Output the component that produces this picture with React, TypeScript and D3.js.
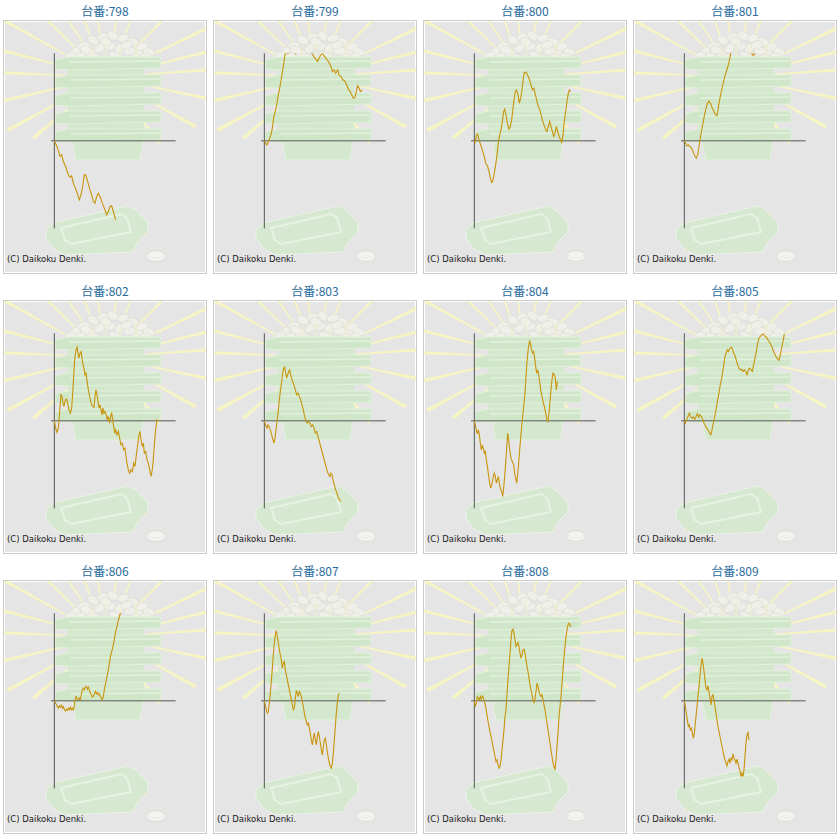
import React from "react";
import * as d3 from "d3";

type P = [number, number];

// machine numbers (panel titles)
const MACHINES = ["798", "799", "800", "801", "802", "803", "804", "805", "806", "807", "808", "809"];

// [games, coin difference]
const S798: P[] = [[0,0],[200,-440],[340,-940],[440,-840],[540,-1240],[680,-1540],[840,-2040],[940,-2180],[1040,-2100],[1140,-2540],[1340,-3040],[1500,-3540],[1600,-3240],[1700,-2740],[1800,-2040],[1880,-2040],[2000,-2440],[2140,-2940],[2240,-3240],[2340,-3640],[2440,-3740],[2540,-3340],[2640,-3140],[2740,-3340],[2880,-3740],[3040,-4140],[3140,-4440],[3240,-4240],[3340,-3940],[3440,-3900],[3540,-4240],[3680,-4740]];
const S799: P[] = [[0,0],[140,-240],[200,-180],[280,60],[400,360],[480,760],[540,1260],[600,1560],[680,1860],[740,2160],[840,2760],[940,3260],[1040,3860],[1140,4460],[1240,5160],[1280,5360],[1400,5240],[1540,5320],[1680,5500],[1880,5240],[2040,5560],[2340,5820],[2640,5620],[2840,5260],[3040,4960],[3200,4760],[3280,4960],[3400,5160],[3500,5260],[3600,5060],[3700,4960],[3840,4760],[4000,4460],[4080,4160],[4200,4260],[4280,4060],[4400,4260],[4480,3960],[4600,3860],[4700,3660],[4800,3620],[4940,3360],[5040,3100],[5140,2960],[5240,2760],[5340,2560],[5440,2620],[5540,3060],[5600,3300],[5680,3160],[5760,2960],[5880,3060]];
const S800: P[] = [[0,0],[40,-140],[140,360],[200,400],[280,60],[380,-240],[480,-540],[600,-940],[680,-1340],[800,-1540],[880,-1840],[960,-2240],[1040,-2500],[1100,-2440],[1180,-2040],[1280,-1440],[1360,-840],[1440,-140],[1520,360],[1600,660],[1680,1160],[1760,1760],[1820,1900],[1900,1560],[1980,1060],[2080,700],[2160,860],[2240,1260],[2300,1760],[2380,2460],[2460,2960],[2540,3060],[2620,2760],[2700,2260],[2780,2560],[2860,3060],[2940,3760],[3000,4100],[3100,4120],[3180,3960],[3260,3820],[3340,3560],[3420,3260],[3500,3060],[3580,3160],[3660,2760],[3740,2460],[3820,2100],[3900,1960],[3980,1660],[4080,1260],[4180,960],[4280,660],[4360,560],[4440,860],[4520,1160],[4600,860],[4680,560],[4760,260],[4840,460],[4920,860],[5000,560],[5080,260],[5180,60],[5240,-140],[5320,360],[5400,1160],[5480,1760],[5560,2360],[5640,2860],[5700,3060],[5780,2960]];
const S801: P[] = [[0,0],[80,-140],[160,-300],[240,-240],[320,-340],[400,-380],[480,-540],[560,-740],[640,-940],[720,-1040],[800,-840],[880,-340],[960,160],[1040,620],[1120,1060],[1200,1500],[1280,1860],[1380,2220],[1480,2400],[1580,2220],[1680,1960],[1780,1760],[1880,1560],[1960,1500],[2020,1860],[2080,2260],[2160,2660],[2240,3060],[2340,3500],[2440,3900],[2540,4220],[2640,4560],[2720,4900],[2780,5260],[2840,5660],[3040,6060],[3340,6260],[3640,5860],[3940,5460],[4040,5260],[4140,5120],[4240,5260],[4440,5660],[4740,5960]];
const S802: P[] = [[0,0],[80,-440],[160,-700],[240,-440],[300,260],[360,1060],[400,1560],[460,1460],[520,1060],[580,860],[640,1160],[700,1300],[760,1260],[820,960],[880,660],[960,460],[1040,760],[1100,1660],[1160,2660],[1220,3660],[1300,4260],[1360,4420],[1420,4060],[1480,3760],[1540,4060],[1600,4160],[1660,3760],[1720,3360],[1780,3160],[1840,2760],[1900,2860],[1980,2260],[2040,1860],[2120,1460],[2180,1160],[2240,960],[2320,860],[2380,820],[2440,1460],[2500,1860],[2560,1560],[2620,1160],[2680,760],[2740,960],[2800,660],[2860,360],[2920,760],[2980,460],[3040,560],[3120,360],[3180,60],[3240,260],[3320,-140],[3380,260],[3440,500],[3500,60],[3560,-340],[3620,-740],[3680,-540],[3760,-840],[3840,-640],[3920,-1040],[4000,-1440],[4080,-1340],[4160,-1740],[4240,-1640],[4300,-2140],[4360,-2540],[4440,-2940],[4520,-3140],[4600,-2940],[4680,-3040],[4760,-2540],[4840,-2740],[4920,-2040],[5000,-1440],[5080,-840],[5140,-640],[5200,-1140],[5280,-1540],[5340,-1340],[5400,-1940],[5480,-1840],[5560,-2340],[5640,-2540],[5720,-2940],[5800,-3340],[5860,-3040],[5920,-2540],[5980,-1740],[6040,-940],[6100,-340],[6160,60],[6220,0]];
const S803: P[] = [[0,0],[80,-240],[160,-440],[220,-240],[280,-340],[360,-540],[440,-840],[520,-1140],[580,-1340],[640,-1040],[700,-540],[780,60],[840,660],[900,1260],[960,1760],[1040,2360],[1100,2860],[1160,3160],[1220,3220],[1280,2860],[1340,2560],[1400,2760],[1460,2960],[1520,3060],[1580,2760],[1640,2560],[1700,2360],[1780,2160],[1860,1860],[1940,1560],[2020,1660],[2100,1460],[2180,1260],[2260,960],[2340,660],[2420,260],[2500,-40],[2580,-140],[2660,-40],[2740,-140],[2820,-340],[2900,-240],[2980,-440],[3060,-740],[3140,-640],[3220,-940],[3300,-1240],[3380,-1540],[3460,-1840],[3540,-2140],[3620,-2440],[3700,-2740],[3780,-3040],[3860,-3240],[3940,-3340],[4000,-3140],[4060,-3240],[4120,-3540],[4200,-3840],[4280,-4140],[4360,-4340],[4440,-4640],[4520,-4740],[4600,-4840]];
const S804: P[] = [[0,0],[60,-240],[120,-540],[180,-780],[240,-540],[300,-840],[360,-1340],[420,-1740],[480,-1500],[540,-1640],[600,-1940],[660,-1840],[720,-2340],[800,-2840],[860,-3340],[920,-3740],[980,-4040],[1040,-3840],[1120,-3440],[1200,-3140],[1260,-3340],[1320,-3740],[1380,-3540],[1440,-3340],[1500,-3740],[1560,-4040],[1640,-4240],[1700,-4540],[1760,-4040],[1820,-3340],[1880,-2540],[1940,-1640],[2000,-740],[2060,-1140],[2120,-1740],[2200,-2240],[2280,-2440],[2360,-2640],[2420,-3140],[2480,-3440],[2540,-3740],[2600,-3240],[2660,-2540],[2720,-1740],[2780,-1040],[2840,-340],[2900,260],[2960,860],[3040,1660],[3100,2660],[3160,3560],[3240,4360],[3320,4820],[3380,4560],[3440,4260],[3500,4060],[3560,4160],[3620,3760],[3680,3260],[3740,2860],[3800,3060],[3860,2760],[3920,2360],[3980,1860],[4040,1560],[4120,1160],[4200,860],[4280,460],[4360,60],[4420,-40],[4480,460],[4540,1160],[4600,1860],[4660,2460],[4720,2860],[4800,2760],[4860,2560],[4920,1860],[4960,2160],[4980,2360]];
const S805: P[] = [[0,0],[60,-140],[140,60],[220,260],[300,460],[380,260],[460,160],[540,220],[620,100],[700,260],[780,420],[860,220],[940,360],[1020,260],[1100,100],[1180,-140],[1260,-300],[1340,-440],[1420,-540],[1500,-700],[1580,-840],[1640,-640],[1700,-340],[1760,-40],[1820,260],[1880,560],[1940,900],[2000,1260],[2080,1660],[2140,2060],[2200,2360],[2260,2660],[2320,3060],[2380,3460],[2440,3860],[2500,4060],[2580,4260],[2640,4160],[2700,4300],[2760,4360],[2840,4420],[2900,4260],[2960,4060],[3020,3960],[3080,3760],[3140,3560],[3200,3360],[3280,3160],[3360,3060],[3440,3100],[3520,2960],[3600,3060],[3680,2960],[3760,2760],[3840,3060],[3920,3160],[4000,3060],[4080,2960],[4160,3360],[4240,3760],[4320,4160],[4400,4660],[4480,4960],[4560,5060],[4640,5160],[4720,5220],[4800,5100],[4880,5060],[4960,4960],[5040,4820],[5120,4700],[5200,4560],[5280,4360],[5360,4160],[5440,3960],[5520,3820],[5600,3700],[5680,3620],[5740,3860],[5800,4160],[5860,4460],[5940,4860],[6000,5220]];
const S806: P[] = [[0,0],[80,-140],[160,-300],[240,-440],[300,-300],[360,-380],[420,-260],[480,-440],[540,-340],[600,-500],[660,-600],[720,-500],[780,-580],[840,-440],[900,-540],[960,-380],[1020,-540],[1080,-440],[1140,-540],[1200,-300],[1260,160],[1320,260],[1380,100],[1440,60],[1500,160],[1560,60],[1620,360],[1680,660],[1740,760],[1800,660],[1860,820],[1920,860],[1980,700],[2040,820],[2100,660],[2160,460],[2220,360],[2280,220],[2340,260],[2400,420],[2460,560],[2520,420],[2580,500],[2640,360],[2700,420],[2760,260],[2820,160],[2880,60],[2940,260],[3000,660],[3060,960],[3120,1260],[3180,1560],[3240,1860],[3300,2260],[3360,2620],[3420,2860],[3480,3100],[3540,3360],[3600,3700],[3660,4060],[3720,4300],[3780,4560],[3840,4820],[3900,5060],[3960,5220],[4020,5300],[4080,5560],[4160,5860]];
const S807: P[] = [[0,0],[60,-240],[120,-540],[180,-740],[240,-640],[300,-140],[360,460],[420,1160],[480,1960],[540,2760],[600,3460],[660,3960],[720,4220],[780,3860],[840,3460],[900,3060],[960,2760],[1020,2460],[1080,1960],[1140,2260],[1200,2360],[1260,1860],[1320,1560],[1380,1260],[1440,960],[1500,660],[1560,360],[1620,60],[1680,-240],[1740,-540],[1800,-440],[1860,160],[1920,620],[1980,460],[2040,260],[2100,560],[2160,460],[2220,260],[2280,-40],[2340,-340],[2400,-740],[2460,-1040],[2520,-1240],[2580,-1440],[2640,-1340],[2700,-1640],[2760,-1940],[2820,-2340],[2880,-2640],[2940,-2240],[3000,-1940],[3060,-2340],[3120,-2640],[3180,-2140],[3240,-1840],[3300,-2140],[3360,-2540],[3420,-2940],[3480,-3240],[3540,-2740],[3600,-2340],[3660,-2240],[3720,-2640],[3780,-3040],[3840,-3440],[3900,-3740],[3960,-3940],[4020,-4040],[4080,-3740],[4140,-3140],[4200,-2340],[4260,-1540],[4320,-740],[4380,-140],[4440,360],[4500,460]];
const S808: P[] = [[0,0],[60,-300],[120,-140],[180,260],[240,160],[300,60],[360,260],[420,100],[480,300],[540,220],[600,-40],[680,-340],[760,-840],[840,-1340],[920,-1740],[1000,-2140],[1080,-2540],[1160,-2940],[1240,-3340],[1300,-3640],[1360,-3540],[1420,-3840],[1480,-4040],[1540,-3940],[1600,-3540],[1660,-2940],[1720,-2340],[1780,-1740],[1840,-940],[1900,-540],[1960,460],[2020,1260],[2080,2060],[2140,2860],[2200,3660],[2260,4220],[2320,4300],[2380,4060],[2440,3660],[2500,3260],[2560,3360],[2620,3500],[2680,3260],[2740,2860],[2800,2560],[2860,2760],[2920,3060],[2980,3100],[3040,2860],[3100,2460],[3160,2060],[3220,1760],[3280,1360],[3340,960],[3400,660],[3460,360],[3520,60],[3580,-140],[3640,160],[3700,560],[3760,1060],[3820,860],[3880,560],[3940,360],[4000,260],[4060,360],[4120,60],[4180,-240],[4240,-540],[4300,-940],[4360,-1340],[4420,-1740],[4480,-2140],[4540,-2540],[4600,-2940],[4660,-3340],[4720,-3740],[4780,-3940],[4840,-4140],[4900,-3540],[4960,-2740],[5020,-1940],[5080,-940],[5140,-340],[5200,260],[5260,1060],[5320,1860],[5380,2660],[5440,3260],[5500,3860],[5560,4260],[5620,4560],[5680,4660],[5740,4560],[5780,4420]];
const S809: P[] = [[0,0],[60,-340],[120,-740],[180,-1140],[240,-1540],[300,-1440],[360,-1740],[420,-1640],[480,-1940],[540,-2240],[600,-1940],[660,-1340],[720,-740],[780,-140],[840,460],[900,1060],[960,1760],[1020,2260],[1060,2560],[1120,2260],[1180,1760],[1240,1260],[1300,760],[1360,660],[1420,900],[1480,560],[1540,160],[1600,-240],[1660,260],[1720,360],[1780,60],[1840,-340],[1900,-740],[1960,-1140],[2020,-1540],[2080,-1840],[2140,-2140],[2200,-2440],[2260,-2740],[2320,-3040],[2380,-3340],[2440,-3540],[2500,-3740],[2560,-3900],[2620,-3640],[2680,-3500],[2740,-3740],[2800,-3440],[2860,-3540],[2920,-3180],[2980,-3440],[3040,-3540],[3100,-3740],[3160,-3500],[3220,-3740],[3280,-4040],[3340,-4180],[3400,-4540],[3460,-4340],[3520,-4540],[3580,-4140],[3640,-3340],[3700,-2540],[3760,-2040],[3820,-1900],[3880,-2340]];

const SERIES: P[][] = [S798, S799, S800, S801, S802, S803, S804, S805, S806, S807, S808, S809];

const GAME_MAX = 7280;
const DIFF_MAX = 5250;
const COLS = 4;
const DX = 210;
const DY = 280;

const x = d3.scaleLinear().domain([0, GAME_MAX]).range([54.33, 175.67]);
const y = d3.scaleLinear().domain([-DIFF_MAX, DIFF_MAX]).range([228.33, 53.33]);
const lineGen = d3.line<P>().x((d) => x(d[0])).y((d) => y(d[1]));

// decorative background: [angle, outer radius]
const RAYS: [number, number][] = [[-151, 140], [-165.7, 130], [-177.7, 125], [167, 118], [151.6, 112], [140, 95], [-136, 140], [-123.7, 140], [-111, 140], [-98, 140], [-79.5, 140], [-66, 140], [-45, 140], [-25.8, 130], [-14, 125], [-4, 125], [12, 118], [29, 103], [50.7, 85]];
const RAY_C = [106, 77];
const BALLS = [[75,52],[84,46],[93,40],[103,37],[113,36],[123,38],[133,42],[142,47],[149,52],[80,57],[90,53],[100,48],[110,46],[120,48],[130,51],[140,55],[95,58],[115,56],[135,58],[106,42],[127,45],[86,50],[70,56],[146,57]];
const TRAYS = [57, 75, 93, 111, 129];

function Background() {
  return (
    <g>
      <g clipPath="url(#panelClip)">
        {RAYS.map(([a, r1], i) => {
          const r = (a * Math.PI) / 180;
          const c = Math.cos(r), s = Math.sin(r);
          const r0 = 40;
          const w0 = 0.7, w1 = 1.9;
          const px = -s, py = c;
          const pts = [
            [RAY_C[0] + c * r0 + px * w0, RAY_C[1] + s * r0 + py * w0],
            [RAY_C[0] + c * r1 + px * w1, RAY_C[1] + s * r1 + py * w1],
            [RAY_C[0] + c * r1 - px * w1, RAY_C[1] + s * r1 - py * w1],
            [RAY_C[0] + c * r0 - px * w0, RAY_C[1] + s * r0 - py * w0],
          ];
          return <polygon key={i} points={pts.map((p) => p.join(",")).join(" ")} fill="#f7f4c4" />;
        })}
      </g>
      {/* balls */}
      {BALLS.map((b, i) => (
        <ellipse key={i} cx={b[0]} cy={b[1]} rx={6} ry={4} transform={`rotate(${(i * 37) % 80 - 40} ${b[0]} ${b[1]})`} fill="#f0f0ea" stroke="#dcdcd3" strokeWidth={0.6} />
      ))}
      {[92, 106, 120, 136].map((sx, i) => (
        <line key={i} x1={sx} x2={sx} y1={46 - (i % 2) * 4} y2={63} stroke="#f3efc0" strokeWidth={1} />
      ))}
      {/* tower body */}
      <rect x={68} y={58} width={76} height={84} fill="#d4e8ce" />
      <path d="M72,140 L143,140 L140,160 L76,160 Z" fill="#d4e8ce" stroke="#e4f1df" strokeWidth={1} />
      {TRAYS.map((ty, i) => (
        <g key={i}>
          <path d={`M55,${ty + 3} L68,${ty} L161,${ty} L161,${ty + 11} L68,${ty + 13} L55,${ty + 12} Z`} fill="#d0e6c9" stroke="#e2f0dc" strokeWidth={1} />
          <line x1={70} x2={160} y1={ty + 5} y2={ty + 4} stroke="#e3f1de" strokeWidth={1.5} />
        </g>
      ))}
      {/* bottom tray */}
      <path d="M46,230 L53,223 L128,206 L136,210 L148,223 L148,232 L138,242 L133,252 L65,255 L53,248 L46,238 Z" fill="#d6e9d0" stroke="#f2f8ef" strokeWidth={1} strokeDasharray="2,1" />
      <path d="M61,228 L121,214 L127,218 L131,232 L71,244 L65,240 Z" fill="none" stroke="#e6f2e2" strokeWidth={2} />
      {/* coin */}
      <ellipse cx={156} cy={256} rx={10} ry={5.5} fill="#f3f3ef" stroke="#d6d6d0" strokeWidth={0.8} />
      <ellipse cx={156} cy={254.5} rx={8} ry={3.5} fill="none" stroke="#e2e2dc" strokeWidth={0.6} />
    </g>
  );
}

export default function App() {
  return (
    <svg width={840} height={840} style={{ position: "absolute", left: 0, top: 0, background: "#fff" }}>
      <defs>
        <clipPath id="panelClip" clipPathUnits="userSpaceOnUse">
          <rect x={4} y={21} width={202} height={252} />
        </clipPath>
        <clipPath id="plotClip" clipPathUnits="userSpaceOnUse">
          <rect x={0} y={53.33} width={210} height={175} />
        </clipPath>
      </defs>
      {MACHINES.map((m, i) => {
        const col = i % COLS;
        const row = Math.floor(i / COLS);
        return (
          <g key={m} transform={`translate(${col * DX},${row * DY})`}>
            <text x={105} y={15.5} textAnchor="middle" fontFamily="'Noto Sans CJK JP', sans-serif" fontSize={12} fill="#2a6c9e">
              {"台番:" + m}
            </text>
            <rect x={3.5} y={20.5} width={203} height={253} fill="#e5e5e5" stroke="#cccccc" />
            <rect x={4.5} y={21.5} width={201} height={251} fill="none" stroke="#ffffff" />
            <Background />
            <text x={7} y={262} fontFamily="'DejaVu Sans', sans-serif" fontSize={8.5} fill="#1a1a1a">
              (C) Daikoku Denki.
            </text>
            <line x1={x(0)} x2={x(0)} y1={y(DIFF_MAX)} y2={y(-DIFF_MAX)} stroke="#555" strokeWidth={1} />
            <line x1={x(0) - 3.3} x2={x(GAME_MAX)} y1={y(0)} y2={y(0)} stroke="#555" strokeWidth={1} />
            <path d={lineGen(SERIES[i]) ?? ""} fill="none" stroke="#c8940c" strokeWidth={1.1} clipPath="url(#plotClip)" />
          </g>
        );
      })}
    </svg>
  );
}
